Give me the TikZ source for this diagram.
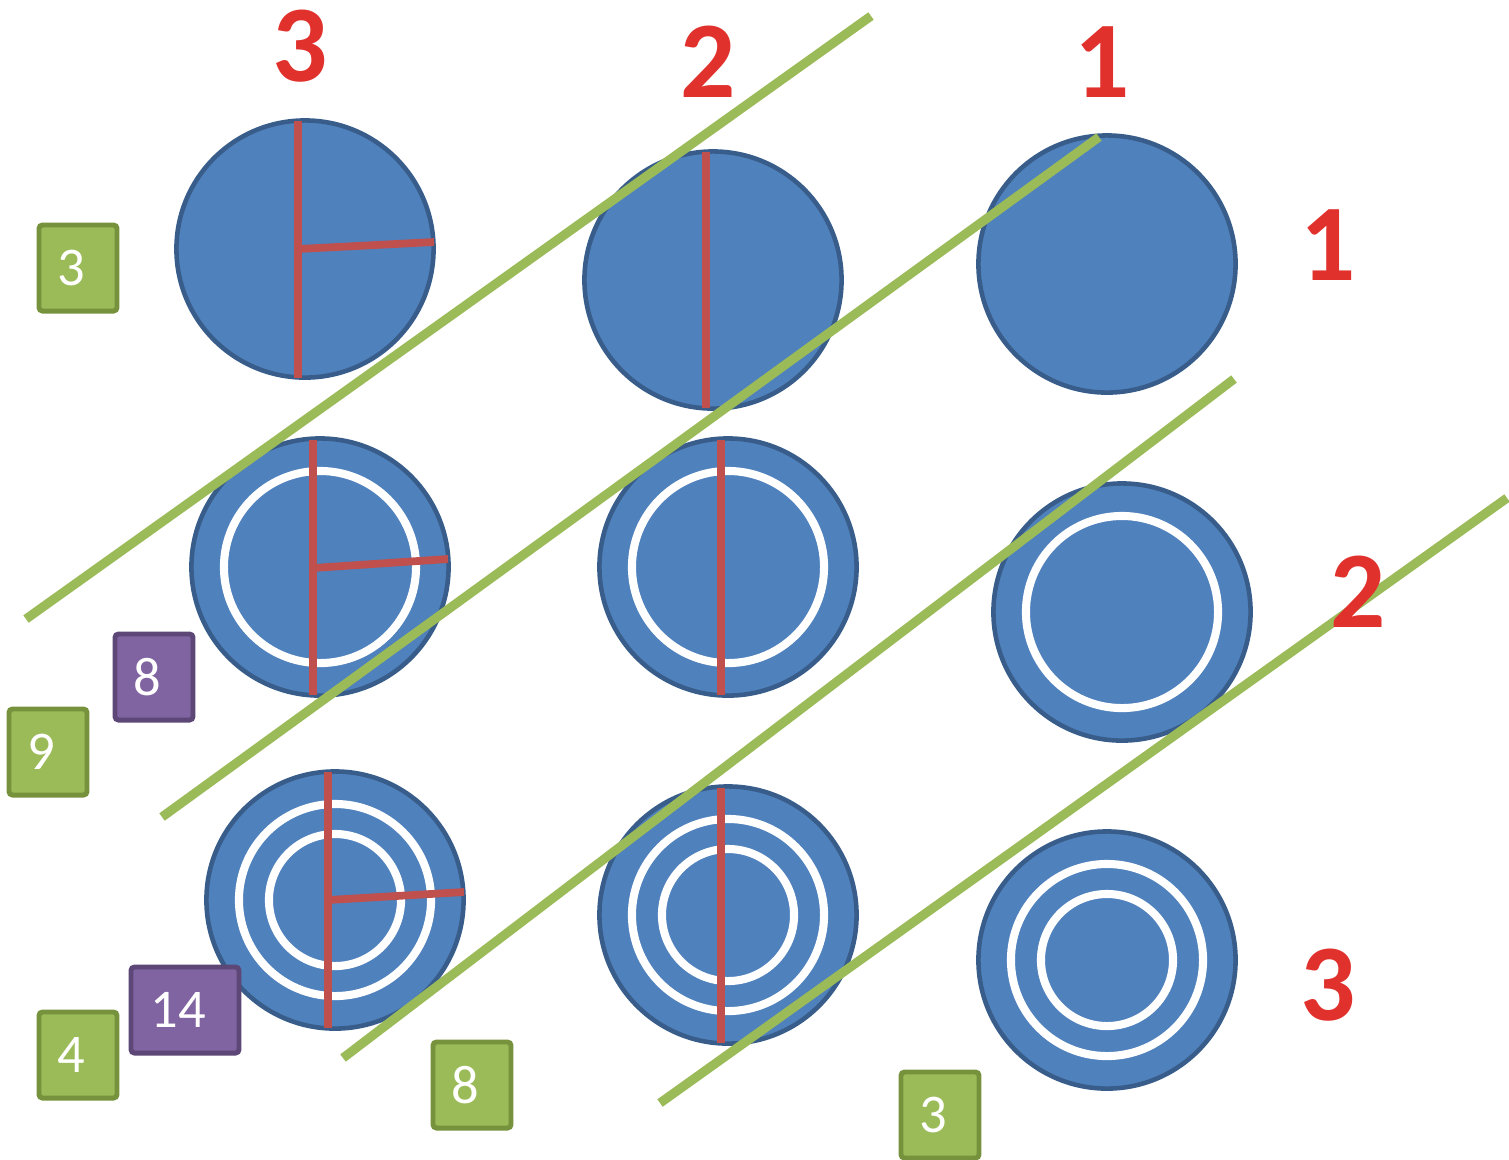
\documentclass[tikz,border=0pt]{standalone}
\usepackage{fontspec}
\setmainfont{Carlito}
\definecolor{discblue}{HTML}{4F81BD}
\definecolor{discedge}{HTML}{385D8A}
\definecolor{cutred}{HTML}{C0504D}
\definecolor{labelred}{HTML}{E0312D}
\definecolor{linegreen}{HTML}{9BBB59}
\definecolor{boxgreen}{HTML}{9BBB59}
\definecolor{boxgreenedge}{HTML}{76923C}
\definecolor{boxpurple}{HTML}{8064A2}
\definecolor{boxpurpleedge}{HTML}{5C4776}
\begin{document}
\begin{tikzpicture}[
    x=0.01cm, y=-0.01cm,
    disc/.style={circle, draw=discedge, fill=discblue, line width=1.3pt, minimum size=2.57cm, inner sep=0pt},
    ring/.style={circle, draw=white, line width=2.3pt, minimum size=#1, inner sep=0pt},
    cut/.style={draw=cutred, line width=2.2pt},
    diag/.style={draw=linegreen, line width=2.6pt},
    greenbox/.style={rectangle, rounded corners=1pt, draw=boxgreenedge, fill=boxgreen, line width=1.4pt, minimum width=0.78cm, minimum height=0.86cm, text=white, font=\fontsize{15.5}{18}\selectfont, execute at end node={\kern0.13cm}},
    purplebox/.style={greenbox, draw=boxpurpleedge, fill=boxpurple},
    count/.style={text=labelred, font=\fontsize{31}{36}\selectfont\bfseries, inner sep=0pt}
]
    \useasboundingbox (0,0) rectangle (1509,1159);

    % discs, row by row
    \node[disc] (c11) at (305,249) {};
    \node[disc] (c12) at (713,280) {};
    \node[disc] (c13) at (1107,264) {};
    \node[disc] (c21) at (320,567) {};
    \node[disc] (c22) at (728,567) {};
    \node[disc] (c23) at (1122,612) {};
    \node[disc] (c31) at (335,900) {};
    \node[disc] (c32) at (728,915) {};
    \node[disc] (c33) at (1107,960) {};

    % white rings
    \foreach \d in {c21,c22,c23,c31,c32,c33} {
        \node[ring=1.92cm] (r\d) at (\d) {};
    }
    \foreach \d in {c31,c32,c33} {
        \node[ring=1.32cm] (s\d) at (\d) {};
    }

    % red cuts
    \draw[cut] (298,121) -- (298,378);
    \draw[cut] (298,249) -- (434,242);
    \draw[cut] (706,152) -- (706,408);
    \draw[cut] (313,440) -- (313,695);
    \draw[cut] (313,568) -- (448,559);
    \draw[cut] (721,440) -- (721,695);
    \draw[cut] (328,772) -- (328,1028);
    \draw[cut] (328,900) -- (464,892);
    \draw[cut] (721,788) -- (721,1043);

    % green diagonals
    \draw[diag] (26,619) -- (871,16);
    \draw[diag] (162,817) -- (1099,137);
    \draw[diag] (343,1058) -- (1234,379);
    \draw[diag] (660,1103) -- (1507,498);

    % column and row numbers
    \node[count] (col3) at (300,46) {3};
    \node[count] (col2) at (708,62) {2};
    \node[count] (col1) at (1102,62) {1};
    \node[count] (row1) at (1328,245) {1};
    \node[count] (row2) at (1358,592) {2};
    \node[count] (row3) at (1328,985) {3};

    % small boxes
    \node[greenbox] (g3) at (78,268) {3};
    \node[purplebox] (p8) at (154,677) {8};
    \node[greenbox] (g9) at (48,752) {9};
    \node[greenbox] (g4) at (78,1055) {4};
    \node[purplebox, minimum width=1.08cm] (p14) at (185,1010) {14};
    \node[greenbox] (g8) at (472,1085) {8};
    \node[greenbox] (g3b) at (940,1115) {3};
\end{tikzpicture}
\end{document}
